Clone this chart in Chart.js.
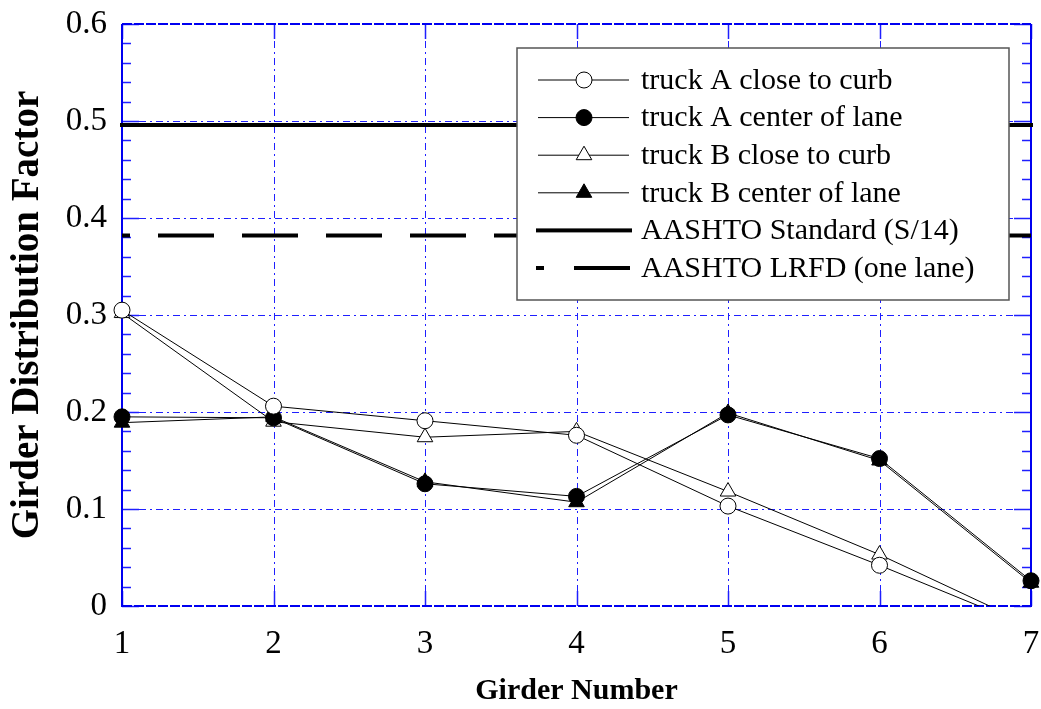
<!DOCTYPE html>
<html>
<head>
<meta charset="utf-8">
<script src="https://cdn.jsdelivr.net/npm/chart.js@4/dist/chart.umd.min.js"></script>
<style>
  html, body { margin: 0; padding: 0; background: #ffffff; }
  canvas { display: block; }
</style>
</head>
<body>
<canvas id="gdf" width="1041" height="709"></canvas>
<script>
// Girder positions across the bridge deck
const girders = [1, 2, 3, 4, 5, 6, 7];

// Measured girder distribution factors for each truck position
const truckACurb   = [0.305, 0.206, 0.191, 0.176, 0.103, 0.042, -0.022];
const truckACenter = [0.195, 0.194, 0.126, 0.113, 0.197, 0.152, 0.026];
const truckBCurb   = [0.302, 0.190, 0.174, 0.180, 0.118, 0.053, -0.020];
const truckBCenter = [0.189, 0.195, 0.128, 0.107, 0.199, 0.150, 0.024];

// Code-based distribution factors
const aashtoStandard = 0.496;
const aashtoLRFD = 0.382;

// Axis ticks
const yTickValues = [0, 0.1, 0.2, 0.3, 0.4, 0.5, 0.6];
const yTickLabels = ['0', '0.1', '0.2', '0.3', '0.4', '0.5', '0.6'];
const xTickLabels = ['1', '2', '3', '4', '5', '6', '7'];

const seriesNames = [
  'truck A close to curb',
  'truck A center of lane',
  'truck B close to curb',
  'truck B center of lane',
  'AASHTO Standard (S/14)',
  'AASHTO LRFD (one lane)'
];

const SERIF = '"Liberation Serif", "Times New Roman", serif';
const BLUE = '#1f1fff';

const toPoints = (vals) => vals.map((v, i) => ({ x: girders[i], y: v }));
const flatLine = (v) => [{ x: girders[0], y: v }, { x: girders[girders.length - 1], y: v }];

const markerClip = { left: 20, top: 20, right: 20, bottom: 0 };

function seriesDataset(label, values, style, filled) {
  return {
    label,
    data: toPoints(values),
    borderColor: '#000000',
    borderWidth: 1,
    pointStyle: style,
    pointRadius: style === 'triangle' ? 9 : 8,
    pointBorderWidth: 1,
    pointBorderColor: '#000000',
    pointBackgroundColor: filled ? '#000000' : '#ffffff',
    backgroundColor: filled ? '#000000' : '#ffffff',
    tension: 0,
    clip: markerClip
  };
}

const datasets = [
  seriesDataset(seriesNames[0], truckACurb, 'circle', false),
  seriesDataset(seriesNames[1], truckACenter, 'circle', true),
  seriesDataset(seriesNames[2], truckBCurb, 'triangle', false),
  seriesDataset(seriesNames[3], truckBCenter, 'triangle', true),
  {
    label: seriesNames[4],
    data: flatLine(aashtoStandard),
    borderColor: '#000000',
    borderWidth: 4,
    borderCapStyle: 'square',
    pointRadius: 0,
    clip: false
  },
  {
    label: seriesNames[5],
    data: flatLine(aashtoLRFD),
    borderColor: '#000000',
    borderWidth: 4,
    borderDash: [56, 28],
    borderDashOffset: 48,
    pointRadius: 0,
    clip: false
  }
];

// Grid, inward tick marks and the blue plot frame
const plotFrame = {
  id: 'plotFrame',
  beforeDatasetsDraw(chart) {
    const { ctx, chartArea, scales } = chart;
    const { left, right, top, bottom } = chartArea;
    const x = scales.x, y = scales.y;
    const seg = (x1, y1, x2, y2) => { ctx.beginPath(); ctx.moveTo(x1, y1); ctx.lineTo(x2, y2); ctx.stroke(); };
    ctx.save();
    // dash-dot major grid
    ctx.strokeStyle = BLUE;
    ctx.lineWidth = 1;
    ctx.setLineDash([7, 4, 2, 4]);
    yTickValues.slice(1, -1).forEach(v => {
      const py = Math.round(y.getPixelForValue(v)) + 0.5;
      seg(left, py, right, py);
    });
    girders.slice(1, -1).forEach(g => {
      const px = Math.round(x.getPixelForValue(g)) + 0.5;
      seg(px, top, px, bottom);
    });
    ctx.setLineDash([]);
    // y ticks: minor every 0.02, major every 0.1, on both sides
    ctx.lineWidth = 1.5;
    for (let i = 0; i <= 30; i++) {
      const py = Math.round(y.getPixelForValue(i / 50)) + 0.5;
      const len = i % 5 === 0 ? 17 : 9;
      seg(left, py, left + len, py);
      seg(right - len, py, right, py);
    }
    // x ticks at top and bottom
    girders.forEach(g => {
      const px = Math.round(x.getPixelForValue(g)) + 0.5;
      seg(px, top, px, top + 15);
      seg(px, bottom - 15, px, bottom);
    });
    // frame
    ctx.strokeStyle = '#0000f0';
    ctx.lineWidth = 2;
    seg(left, top, left, bottom + 1);
    seg(right, top, right, bottom + 1);
    ctx.setLineDash([10, 2]);
    seg(left, top, right, top);
    seg(left, bottom, right, bottom);
    ctx.restore();
  }
};

// Boxed legend in the upper right of the plot
const boxLegend = {
  id: 'boxLegend',
  afterDatasetsDraw(chart) {
    const { ctx } = chart;
    const box = { x: 517, y: 48, w: 492, h: 252 };
    const rowY0 = 80, rowStep = 37.6;
    const lineX1 = 538, lineX2 = 629, markX = 584, textX = 641;
    ctx.save();
    ctx.fillStyle = '#ffffff';
    ctx.fillRect(box.x, box.y, box.w, box.h);
    ctx.strokeStyle = '#555555';
    ctx.lineWidth = 1.5;
    ctx.strokeRect(box.x, box.y, box.w, box.h);
    chart.data.datasets.forEach((ds, i) => {
      const cy = rowY0 + i * rowStep;
      ctx.strokeStyle = '#000000';
      ctx.fillStyle = '#000000';
      if (i < 4) {
        ctx.lineWidth = 1;
        ctx.beginPath(); ctx.moveTo(lineX1, cy); ctx.lineTo(lineX2, cy); ctx.stroke();
        ctx.fillStyle = ds.pointBackgroundColor;
        ctx.strokeStyle = '#000000';
        ctx.lineWidth = 1;
        Chart.helpers.drawPoint(ctx, {
          pointStyle: ds.pointStyle,
          radius: ds.pointStyle === 'triangle' ? 9 : 8,
          rotation: 0,
          borderWidth: 1
        }, markX, cy);
      } else if (i === 4) {
        ctx.fillRect(536, cy - 2, 96, 4);
      } else {
        ctx.fillRect(536, cy - 2, 8, 4);
        ctx.fillRect(574, cy - 2, 56, 4);
      }
      ctx.fillStyle = '#000000';
      ctx.font = '30px ' + SERIF;
      ctx.textAlign = 'left';
      ctx.textBaseline = 'middle';
      ctx.fillText(ds.label, textX, cy + 1);
    });
    ctx.restore();
  }
};

new Chart(document.getElementById('gdf'), {
  type: 'line',
  data: { datasets },
  options: {
    responsive: false,
    animation: false,
    events: [],
    layout: { padding: { top: 24, right: 5, left: 0, bottom: 0 } },
    plugins: {
      legend: { display: false },
      tooltip: { enabled: false }
    },
    scales: {
      x: {
        type: 'linear',
        min: 1,
        max: 7,
        afterFit(scale) {
          scale.height = 103;
          scale.paddingLeft = 0;
          scale.paddingRight = 0;
        },
        afterBuildTicks(scale) { scale.ticks = girders.map(v => ({ value: v })); },
        grid: { display: false, drawTicks: false },
        border: { display: false },
        ticks: {
          color: '#000000',
          font: { family: SERIF, size: 33 },
          padding: 19,
          maxRotation: 0,
          autoSkip: false,
          callback: (v, i) => xTickLabels[i]
        },
        title: {
          display: true,
          text: 'Girder Number',
          color: '#000000',
          font: { family: SERIF, size: 30, weight: 'bold' },
          padding: { top: 1, bottom: 0 }
        }
      },
      y: {
        type: 'linear',
        min: 0,
        max: 0.6,
        afterFit(scale) {
          scale.width = 122;
          scale.paddingTop = 0;
          scale.paddingBottom = 0;
        },
        afterBuildTicks(scale) { scale.ticks = yTickValues.map(v => ({ value: v })); },
        grid: { display: false, drawTicks: false },
        border: { display: false },
        ticks: {
          color: '#000000',
          font: { family: SERIF, size: 33 },
          padding: 15,
          autoSkip: false,
          callback: (v, i) => yTickLabels[i]
        },
        title: {
          display: true,
          text: 'Girder Distribution Factor',
          color: '#000000',
          font: { family: SERIF, size: 39, weight: 'bold' },
          padding: { top: 5, bottom: 0 }
        }
      }
    }
  },
  plugins: [plotFrame, boxLegend]
});
</script>
</body>
</html>
